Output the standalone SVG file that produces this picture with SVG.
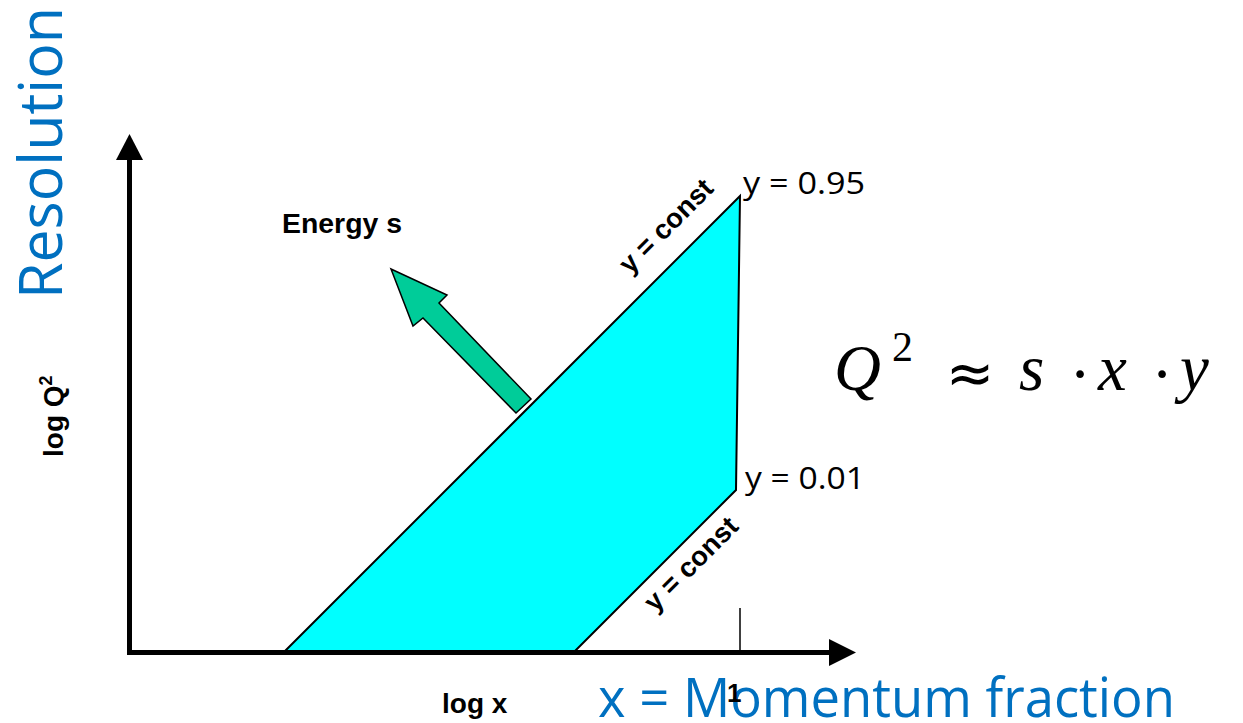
<svg xmlns="http://www.w3.org/2000/svg" width="1243" height="723" viewBox="0 0 1243 723">
<style>
.ax{stroke:#000;stroke-width:5;fill:none}
.ah{fill:#000;stroke:none}
.blue{fill:#0070C0;font-family:"Open Sans","Noto Sans",sans-serif}
.bold{font-family:"Liberation Sans",Arial,sans-serif;font-weight:bold;fill:#000}
.reg{font-family:"Open Sans","Noto Sans",sans-serif;fill:#000}
.math{font-family:"Liberation Serif","Times New Roman",serif;fill:#000}
</style>
<rect width="1243" height="723" fill="#fff"/>
<g id="region">
<polygon points="283,653 740,196 736,490 573,653" fill="#00FFFF" stroke="#000" stroke-width="2" stroke-linejoin="miter"/>
</g>
<g id="energy-arrow">
<polygon points="391,269 447,295 439,303 531,399 516,413 423,318 413,326" fill="#00CC99" stroke="#000" stroke-width="1.5"/>
</g>
<g id="connectors">
<line class="ax" x1="129.5" y1="655" x2="129.5" y2="158"/>
<polygon class="ah" points="129.5,134 143,160 116,160"/>
<line class="ax" x1="127" y1="652.5" x2="831" y2="652.5"/>
<polygon class="ah" points="856,652.5 829,639 829,666"/>
<line x1="740" y1="608" x2="740" y2="652" stroke="#000" stroke-width="1.5"/>
</g>
<g id="labels">
<text class="blue" font-size="61" transform="translate(62,299) rotate(-90)" textLength="292" lengthAdjust="spacingAndGlyphs">Resolution</text>
<text class="bold" font-size="28" transform="translate(63,457) rotate(-90)">log Q<tspan font-size="18" dy="-11">2</tspan></text>
<text class="bold" font-size="28" x="442" y="713">log x</text>
<text class="bold" font-size="28" x="282" y="233" textLength="120" lengthAdjust="spacingAndGlyphs">Energy s</text>
<text class="blue" font-size="55" x="598" y="717" textLength="577" lengthAdjust="spacingAndGlyphs">x = Momentum fraction</text>
<text class="bold" font-size="26" x="727" y="702">1</text>
<text class="reg" font-size="31" x="743" y="194" textLength="122" lengthAdjust="spacingAndGlyphs">y = 0.95</text>
<text class="reg" font-size="31" x="745" y="489" textLength="120" lengthAdjust="spacingAndGlyphs">y = 0.01</text>
<text class="bold" font-size="27.5" text-anchor="middle" transform="translate(672.5,232.5) rotate(-45)">y = const</text>
<text class="bold" font-size="27.5" text-anchor="middle" transform="translate(697.5,570.5) rotate(-45)">y = const</text>
</g>
<g id="formula" class="math">
<text font-size="65" font-style="italic" x="834" y="390">Q</text>
<text font-size="42" x="892" y="361">2</text>
<text font-size="58" x="970" y="393" text-anchor="middle" font-family="DejaVu Sans, sans-serif">≈</text>
<text font-size="65" font-style="italic" x="1019" y="390">s</text>
<text font-size="65" x="1080" y="396" text-anchor="middle">·</text>
<text font-size="65" font-style="italic" x="1098" y="390">x</text>
<text font-size="65" x="1162" y="396" text-anchor="middle">·</text>
<text font-size="65" font-style="italic" x="1180" y="390">y</text>
</g>
</svg>
